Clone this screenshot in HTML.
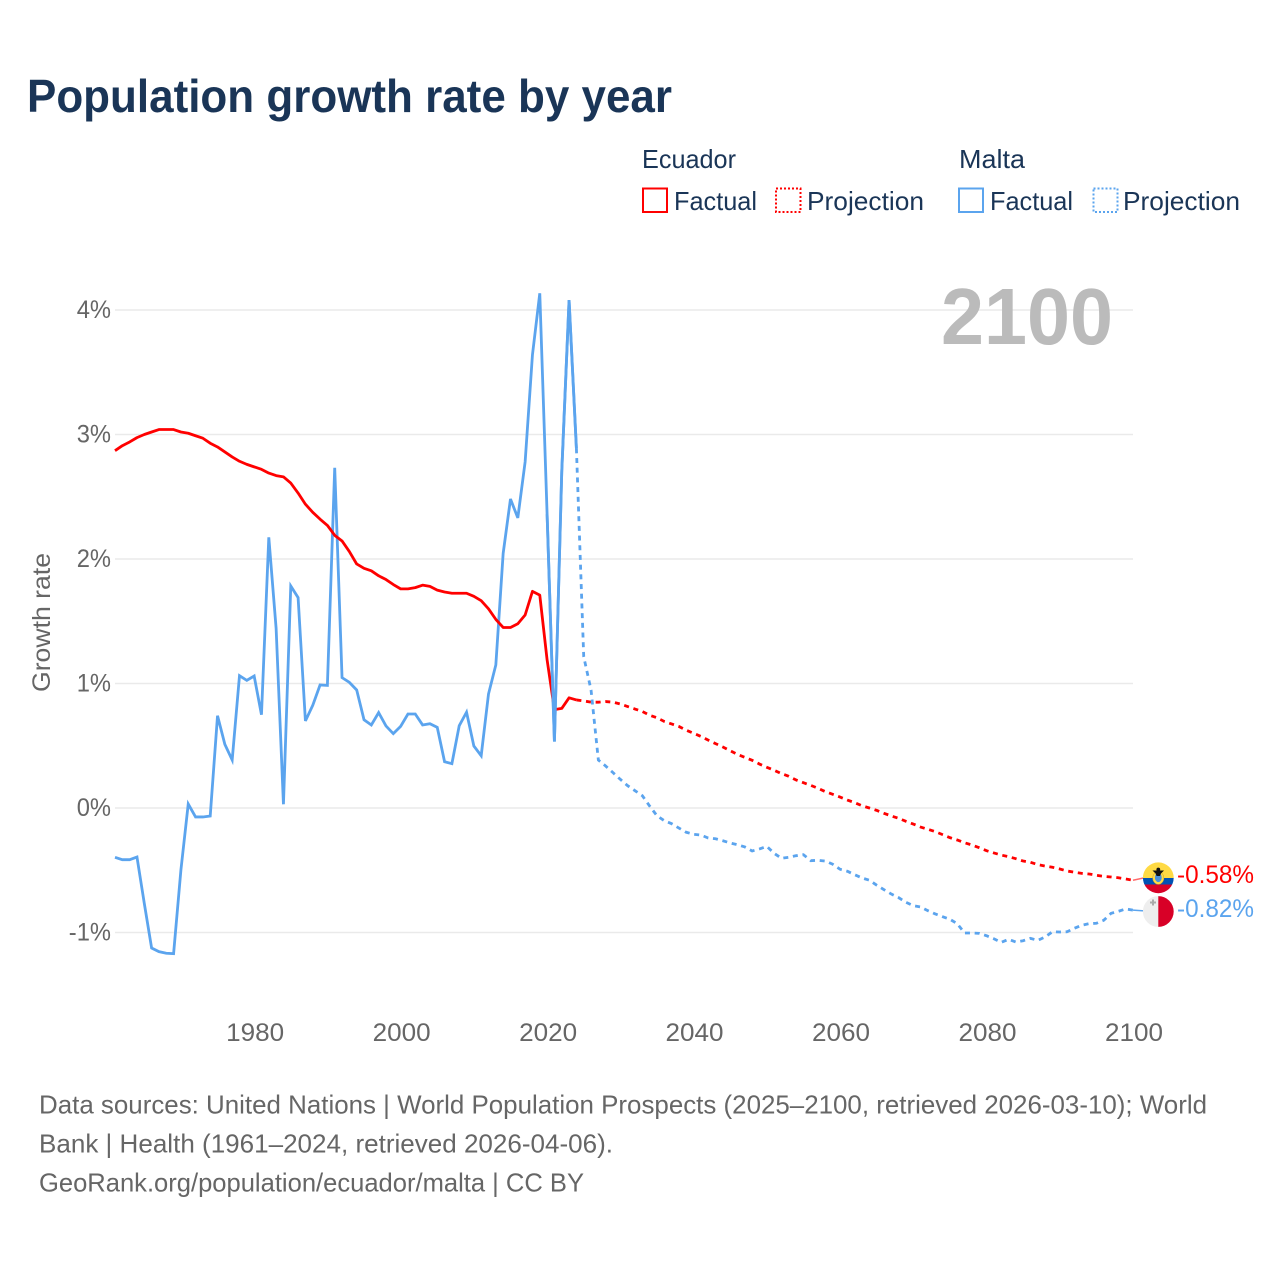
<!DOCTYPE html>
<html lang="en">
<head>
<meta charset="utf-8">
<title>Population growth rate by year</title>
<style>
html,body{margin:0;padding:0;background:#fff;width:1280px;height:1280px;overflow:hidden}
svg{display:block}
text{font-family:"Liberation Sans",Arial,sans-serif}
</style>
</head>
<body>
<svg id="chart" xmlns="http://www.w3.org/2000/svg" width="1280" height="1280" viewBox="0 0 1280 1280">
  <rect width="1280" height="1280" fill="#fff"/>
  <text x="27" y="112" font-size="46" font-weight="700" fill="#1a3557" textLength="645" lengthAdjust="spacingAndGlyphs">Population growth rate by year</text>

  <g fill="#1a3557" font-size="26">
    <text x="642" y="168" textLength="94" lengthAdjust="spacingAndGlyphs">Ecuador</text>
    <text x="959" y="168" textLength="66" lengthAdjust="spacingAndGlyphs">Malta</text>
    <rect x="643" y="188.500" width="24" height="23.500" fill="none" stroke="#ff0000" stroke-width="2"/>
    <text x="674" y="210" textLength="83" lengthAdjust="spacingAndGlyphs">Factual</text>
    <rect x="776" y="188.500" width="24.500" height="23.500" fill="none" stroke="#ff0000" stroke-width="2" stroke-dasharray="2 2"/>
    <text x="807" y="210" textLength="117" lengthAdjust="spacingAndGlyphs">Projection</text>
    <rect x="959" y="188.500" width="24" height="23.500" fill="none" stroke="#5ba4ee" stroke-width="2"/>
    <text x="990" y="210" textLength="83" lengthAdjust="spacingAndGlyphs">Factual</text>
    <rect x="1093.500" y="188.500" width="24" height="23.500" fill="none" stroke="#5ba4ee" stroke-width="2" stroke-dasharray="2 2"/>
    <text x="1123" y="210" textLength="117" lengthAdjust="spacingAndGlyphs">Projection</text>
  </g>

  <g id="grid"></g>
  <g id="yticks" font-size="25" fill="#666"></g>
  <g id="xticks" font-size="25" fill="#666"></g>

  <text transform="translate(50 622.500) rotate(-90)" text-anchor="middle" font-size="25" fill="#666" textLength="139" lengthAdjust="spacingAndGlyphs">Growth rate</text>
  <text x="941" y="344" font-size="80" font-weight="700" fill="#bbbbbb" textLength="172" lengthAdjust="spacingAndGlyphs">2100</text>

  <g id="series"></g>

  <defs>
    <clipPath id="clip-ec"><circle cx="1158.300" cy="877.800" r="15.400"/></clipPath>
    <clipPath id="clip-mt"><circle cx="1158.300" cy="911.500" r="15.400"/></clipPath>
  </defs>
  <g clip-path="url(#clip-ec)">
    <rect x="1142" y="862" width="33" height="16" fill="#ffda44"/>
    <rect x="1142" y="878" width="33" height="6.500" fill="#0052b4"/>
    <rect x="1142" y="884.500" width="33" height="10" fill="#d80027"/>
    <ellipse cx="1158.300" cy="878" rx="5.600" ry="6.400" fill="#ffda44" stroke="#c9a227" stroke-width="0.500"/>
    <ellipse cx="1158.300" cy="877.500" rx="3.400" ry="4.600" fill="#4a90d9"/>
    <path d="M1152.500 870.500 L1164 870.500 L1161 873.500 L1160 876 L1156.600 876 L1155.600 873.500 Z" fill="#111"/>
    <circle cx="1158.300" cy="869.500" r="1.900" fill="#111"/>
  </g>
  <g clip-path="url(#clip-mt)">
    <rect x="1142" y="895" width="16.500" height="33" fill="#eeeeee"/>
    <rect x="1158.300" y="895" width="17" height="33" fill="#d80027"/>
    <path d="M1150 902.500 h6 M1153 899.500 v6" stroke="#aaa" stroke-width="2" fill="none"/>
  </g>

  <text id="label-ec" x="1177" y="883" font-size="25" fill="#ff0000" textLength="77" lengthAdjust="spacingAndGlyphs"></text>
  <text id="label-mt" x="1177" y="917" font-size="25" fill="#5ba4ee" textLength="77" lengthAdjust="spacingAndGlyphs"></text>

  <g font-size="26" fill="#666">
    <text x="39" y="1113.500" textLength="1168" lengthAdjust="spacingAndGlyphs">Data sources: United Nations | World Population Prospects (2025–2100, retrieved 2026-03-10); World</text>
    <text x="39" y="1152.500" textLength="574" lengthAdjust="spacingAndGlyphs">Bank | Health (1961–2024, retrieved 2026-04-06).</text>
    <text x="39" y="1191.500" textLength="545" lengthAdjust="spacingAndGlyphs">GeoRank.org/population/ecuador/malta | CC BY</text>
  </g>
</svg>

<script>
const factualStartYear = 1961;
const projectionStartYear = 2024;
const xTickYears = [1980, 2000, 2020, 2040, 2060, 2080, 2100];
const yTickValues = [4, 3, 2, 1, 0, -1];

const ecuadorFactual = [
  2.87,2.91,2.94,2.975,3.00,3.02,3.04,3.04,3.04,3.02,
  3.01,2.99,2.97,2.93,2.90,2.86,2.82,2.785,2.76,2.74,
  2.72,2.69,2.67,2.66,2.61,2.53,2.44,2.375,2.32,2.27,
  2.19,2.145,2.06,1.96,1.925,1.905,1.865,1.835,1.795,1.76,
  1.76,1.77,1.79,1.78,1.75,1.735,1.725,1.725,1.725,1.70,
  1.665,1.60,1.515,1.45,1.45,1.48,1.55,1.74,1.71,1.19,
  0.79,0.80,0.885,0.868
];
const ecuadorProjection = [
  0.868,0.86,0.85,0.85,0.855,0.85,0.835,0.815,0.795,0.775,
  0.745,0.725,0.695,0.675,0.655,0.625,0.60,0.575,0.545,0.517,
  0.49,0.46,0.43,0.407,0.383,0.353,0.327,0.303,0.276,0.255,
  0.225,0.203,0.182,0.158,0.131,0.11,0.088,0.064,0.043,0.018,
  0,-0.019,-0.043,-0.064,-0.083,-0.107,-0.129,-0.153,-0.171,-0.19,
  -0.214,-0.238,-0.257,-0.279,-0.297,-0.319,-0.343,-0.361,-0.378,-0.391,
  -0.407,-0.426,-0.436,-0.455,-0.466,-0.476,-0.49,-0.506,-0.516,-0.525,
  -0.53,-0.54,-0.549,-0.554,-0.56,-0.57,-0.58
];
const maltaFactual = [
  -0.396,-0.415,-0.415,-0.394,-0.766,-1.125,-1.154,-1.167,-1.17,-0.498,
  0.032,-0.072,-0.072,-0.064,0.741,0.511,0.386,1.063,1.025,1.06,
  0.749,2.174,1.443,0.03,1.783,1.69,0.699,0.825,0.988,0.985,
  2.733,1.047,1.009,0.948,0.709,0.667,0.766,0.659,0.597,0.656,
  0.755,0.755,0.667,0.677,0.648,0.372,0.356,0.661,0.769,0.498,
  0.42,0.916,1.149,2.045,2.482,2.33,2.78,3.64,4.134,2.36,
  0.533,2.7,4.08,2.889
];
const maltaProjection = [
  2.889,1.215,0.948,0.385,0.337,0.284,0.23,0.179,0.139,0.099,
  0.016,-0.062,-0.102,-0.126,-0.161,-0.195,-0.211,-0.217,-0.241,-0.247,
  -0.263,-0.281,-0.295,-0.313,-0.345,-0.329,-0.308,-0.364,-0.404,-0.396,
  -0.383,-0.375,-0.423,-0.42,-0.426,-0.452,-0.492,-0.508,-0.536,-0.562,
  -0.58,-0.62,-0.656,-0.691,-0.72,-0.757,-0.785,-0.795,-0.825,-0.851,
  -0.873,-0.894,-0.929,-1.004,-1.004,-1.007,-1.026,-1.05,-1.079,-1.055,
  -1.076,-1.066,-1.047,-1.063,-1.036,-0.994,-0.996,-0.994,-0.966,-0.942,
  -0.929,-0.926,-0.902,-0.846,-0.83,-0.811,-0.82
];
const ecuadorEndLabel = "-0.58%";
const maltaEndLabel = "-0.82%";

const NS = "http://www.w3.org/2000/svg";
const plotLeft = 115, plotRight = 1133;
const xScale = year => plotLeft + (year - 1961) * (plotRight - plotLeft) / 139;
const yScale = value => 808 - value * 124.5;

function make(tag, parent, attrs) {
  const el = document.createElementNS(NS, tag);
  for (const k in attrs) el.setAttribute(k, attrs[k]);
  parent.appendChild(el);
  return el;
}

const grid = document.getElementById("grid");
const yticks = document.getElementById("yticks");
const xticks = document.getElementById("xticks");
const series = document.getElementById("series");

yTickValues.forEach(v => {
  const line = make("line", grid, {x1: plotLeft, x2: plotRight, y1: yScale(v), y2: yScale(v), stroke: "#eaeaea", "stroke-width": 1.5});
  
  
  const t = make("text", yticks, {x: 111, y: yScale(v) + 8, "text-anchor": "end"});
  
  
  t.textContent = v + "%";
  t.setAttribute("textLength", (t.getComputedTextLength() * 0.95).toFixed(1));
  t.setAttribute("lengthAdjust", "spacingAndGlyphs");
});

xTickYears.forEach(y => {
  const t = make("text", xticks, {x: xScale(y) + 1, y: 1041, "text-anchor": "middle"});
  
  
  t.textContent = y;
  t.setAttribute("textLength", "58");
  t.setAttribute("lengthAdjust", "spacingAndGlyphs");
});

function pathFrom(values, startYear) {
  return values.map((v, i) => (i ? "L" : "M") + xScale(startYear + i).toFixed(2) + " " + yScale(v).toFixed(2)).join(" ");
}

const lineWidth = 2.8;
const dashPattern = "5 4.700";

const maltaFactualLine = make("path", series, {d: pathFrom(maltaFactual, factualStartYear), fill: "none", stroke: "#5ba4ee", "stroke-width": lineWidth, "stroke-linejoin": "miter"});



const ecuadorFactualLine = make("path", series, {d: pathFrom(ecuadorFactual, factualStartYear), fill: "none", stroke: "#ff0000", "stroke-width": lineWidth, "stroke-linejoin": "round"});



// Malta's factual line crosses over Ecuador's near 2020-2021 in the reference.
const maltaTop = make("path", series, {d: pathFrom(maltaFactual.slice(-5), factualStartYear + maltaFactual.length - 5), fill: "none", stroke: "#5ba4ee", "stroke-width": lineWidth});



const ecuadorProjectionLine = make("path", series, {d: pathFrom(ecuadorProjection, projectionStartYear), fill: "none", stroke: "#ff0000", "stroke-width": lineWidth, "stroke-dasharray": dashPattern});



const maltaProjectionLine = make("path", series, {d: pathFrom(maltaProjection, projectionStartYear), fill: "none", stroke: "#5ba4ee", "stroke-width": lineWidth, "stroke-dasharray": dashPattern});



const ecLast = ecuadorProjection[ecuadorProjection.length - 1];
const mtLast = maltaProjection[maltaProjection.length - 1];
const ecLeader = make("line", series, {x1: xScale(2100), y1: yScale(ecLast), x2: 1146, y2: 877.5, stroke: "#ff6a6a", "stroke-width": 1.5});


const mtLeader = make("line", series, {x1: xScale(2100), y1: yScale(mtLast), x2: 1146, y2: 911, stroke: "#5ba4ee", "stroke-width": 1.5});



document.getElementById("label-ec").textContent = ecuadorEndLabel;
document.getElementById("label-mt").textContent = maltaEndLabel;
</script>
</body>
</html>
